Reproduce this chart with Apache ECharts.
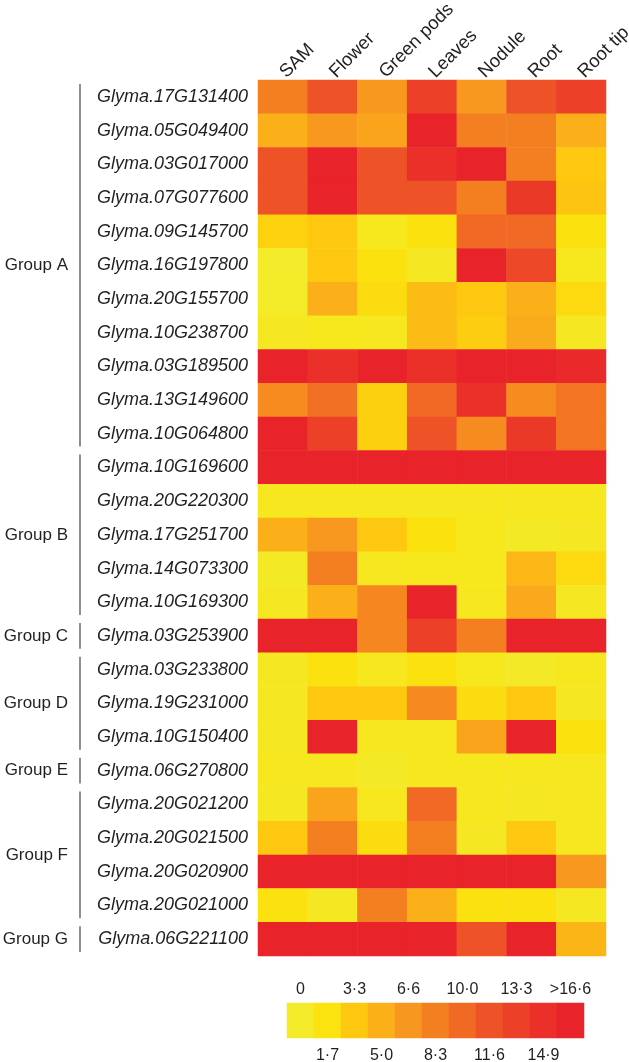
<!DOCTYPE html>
<html>
<head>
<meta charset="utf-8">
<script src="https://cdn.jsdelivr.net/npm/echarts@6/dist/echarts.min.js"></script>
<style>
html,body{margin:0;padding:0;background:#fff;}
#chart{width:629px;height:1062px;}
</style>
</head>
<body>
<div id="chart"></div>
<script>
const tissues = ['SAM', 'Flower', 'Green pods', 'Leaves', 'Nodule', 'Root', 'Root tip'];
const genes = [
  'Glyma.17G131400','Glyma.05G049400','Glyma.03G017000','Glyma.07G077600','Glyma.09G145700',
  'Glyma.16G197800','Glyma.20G155700','Glyma.10G238700','Glyma.03G189500','Glyma.13G149600',
  'Glyma.10G064800','Glyma.10G169600','Glyma.20G220300','Glyma.17G251700','Glyma.14G073300',
  'Glyma.10G169300','Glyma.03G253900','Glyma.03G233800','Glyma.19G231000','Glyma.10G150400',
  'Glyma.06G270800','Glyma.20G021200','Glyma.20G021500','Glyma.20G020900','Glyma.20G021000',
  'Glyma.06G221100'
];
// expression values per tissue (one value per gene, same order as genes)
const sam       = [8.3, 5.0, 11.6, 11.6, 2.7, 0.0, 0.1, 0.5, 16.6, 7.5, 16.6, 16.6, 0.7, 5.0, 0.3, 0.5, 16.6, 0.5, 0.5, 0.5, 0.7, 0.5, 3.3, 16.6, 1.8, 16.6];
const flower    = [11.6, 6.6, 16.6, 16.6, 3.3, 3.3, 5.0, 0.8, 14.9, 9.5, 13.3, 16.6, 0.7, 6.6, 8.3, 5.0, 16.6, 1.7, 3.3, 16.6, 0.7, 5.8, 8.3, 16.6, 0.5, 16.6];
const greenPods = [6.6, 5.8, 11.6, 11.6, 0.8, 1.7, 2.0, 0.7, 16.6, 2.8, 2.8, 16.6, 0.7, 3.3, 0.7, 7.8, 7.8, 0.7, 3.3, 0.7, 0.2, 0.7, 2.0, 16.6, 8.3, 16.6];
const leaves    = [13.3, 16.6, 14.9, 11.6, 1.7, 0.5, 4.2, 4.2, 14.9, 10.0, 11.6, 16.6, 0.7, 1.7, 0.8, 16.6, 13.3, 1.8, 7.6, 0.7, 0.7, 10.0, 8.3, 16.6, 5.0, 16.6];
const nodule    = [6.6, 8.3, 16.6, 8.3, 10.0, 16.6, 3.3, 3.0, 16.6, 14.9, 7.5, 16.6, 0.7, 0.8, 0.8, 0.7, 8.3, 0.8, 2.0, 5.8, 0.7, 0.7, 0.5, 16.6, 1.8, 11.6];
const root      = [11.6, 8.3, 8.3, 14.1, 10.0, 12.5, 5.0, 5.3, 16.6, 7.5, 14.1, 16.6, 0.7, 0.3, 4.5, 5.5, 16.6, 0.2, 3.3, 16.6, 0.7, 0.5, 3.3, 16.6, 1.8, 16.6];
const rootTip   = [13.3, 5.0, 3.3, 3.6, 1.7, 0.8, 2.2, 0.5, 15.8, 9.1, 9.1, 16.6, 0.7, 0.5, 2.2, 0.5, 16.6, 0.7, 0.5, 1.7, 0.7, 0.7, 0.7, 6.6, 0.5, 4.6];

const groupNames = ['Group A', 'Group B', 'Group C', 'Group D', 'Group E', 'Group F', 'Group G'];
const groupStart = [0, 11, 16, 17, 20, 21, 25];
const groupEnd   = [10, 15, 16, 19, 20, 24, 25];

const legendLabels = ['0', '1·7', '3·3', '5·0', '6·6', '8·3', '10·0', '11·6', '13·3', '14·9', '>16·6'];
const legendValues = [0, 1.66, 3.32, 4.98, 6.64, 8.3, 9.96, 11.62, 13.28, 14.94, 16.6];
const scaleColors = ['#f3ea2a', '#fbe30f', '#fdc80f', '#fbb01a', '#f8971f', '#f47f21', '#f16a24', '#ee5327', '#ec4128', '#ea3029', '#e9232a'];

const columns = [sam, flower, greenPods, leaves, nodule, root, rootTip];
const heatData = [];
columns.forEach((col, x) => col.forEach((v, y) => heatData.push([x, y, v])));
const legendData = legendValues.map((v, i) => [i, 0, v]);

const FONT = '"Liberation Sans", Arial, Helvetica, sans-serif';
const TXT = '#231f20';

const chart = echarts.init(document.getElementById('chart'), null, {renderer: 'canvas'});
chart.setOption({
  animation: false,
  backgroundColor: '#fff',
  grid: [
    {left: 258, top: 80, width: 348, height: 876, containLabel: false, outerBoundsMode: 'none'},
    {left: 287, top: 1003, width: 297, height: 35, containLabel: false, outerBoundsMode: 'none'}
  ],
  xAxis: [
    {
      type: 'category', gridIndex: 0, position: 'top', data: tissues,
      axisLine: {show: false}, axisTick: {show: false}, splitLine: {show: false},
      axisLabel: {rotate: -45, interval: 0, margin: 5, fontSize: 18.5, fontFamily: FONT, color: TXT}
    },
    {
      type: 'category', gridIndex: 1, position: 'bottom', data: legendLabels,
      axisLine: {show: false}, axisTick: {show: false},
      axisLabel: {interval: 0, margin: 10, fontSize: 16, fontFamily: FONT, color: TXT,
        formatter: (v, i) => (i % 2 === 1 ? v : '')}
    },
    {
      type: 'category', gridIndex: 1, position: 'top', data: legendLabels,
      axisLine: {show: false}, axisTick: {show: false},
      axisLabel: {interval: 0, margin: 5, fontSize: 16, fontFamily: FONT, color: TXT,
        formatter: (v, i) => (i % 2 === 0 ? v : '')}
    }
  ],
  yAxis: [
    {
      type: 'category', gridIndex: 0, data: genes, inverse: true,
      axisLine: {show: false}, axisTick: {show: false}, splitLine: {show: false},
      axisLabel: {interval: 0, margin: 10, fontSize: 18, fontStyle: 'italic', fontFamily: FONT, color: TXT}
    },
    {
      type: 'category', gridIndex: 1, data: [''],
      axisLine: {show: false}, axisTick: {show: false}, axisLabel: {show: false}
    }
  ],
  visualMap: {
    show: false, type: 'continuous', min: 0, max: 16.6, seriesIndex: [0, 1], dimension: 2,
    inRange: {color: scaleColors}
  },
  series: [
    {
      type: 'heatmap', xAxisIndex: 0, yAxisIndex: 0, data: heatData,
      itemStyle: {borderWidth: 0}, emphasis: {disabled: true}
    },
    {
      type: 'heatmap', xAxisIndex: 1, yAxisIndex: 1, data: legendData,
      itemStyle: {borderWidth: 0}, emphasis: {disabled: true}
    },
    {
      type: 'custom', xAxisIndex: 0, yAxisIndex: 0, silent: true,
      data: groupNames.map((g, i) => [0, groupStart[i], groupEnd[i]]),
      encode: {x: 0, y: [1, 2]},
      renderItem: function (params, api) {
        const s = api.coord([0, api.value(1)]);
        const e = api.coord([0, api.value(2)]);
        const h = api.size([0, 1])[1];
        const top = s[1] - h / 2 + 4;
        const bot = e[1] + h / 2 - 4;
        const x = params.coordSys.x - 178;
        return {
          type: 'group',
          children: [
            {type: 'line', shape: {x1: x, y1: top, x2: x, y2: bot}, style: {stroke: '#444', lineWidth: 1.2}},
            {type: 'text', style: {text: groupNames[params.dataIndex], x: x - 12, y: (top + bot) / 2,
              textAlign: 'right', textVerticalAlign: 'middle', fontSize: 17, fontFamily: FONT, fill: TXT}}
          ]
        };
      }
    }
  ]
});
</script>
</body>
</html>
